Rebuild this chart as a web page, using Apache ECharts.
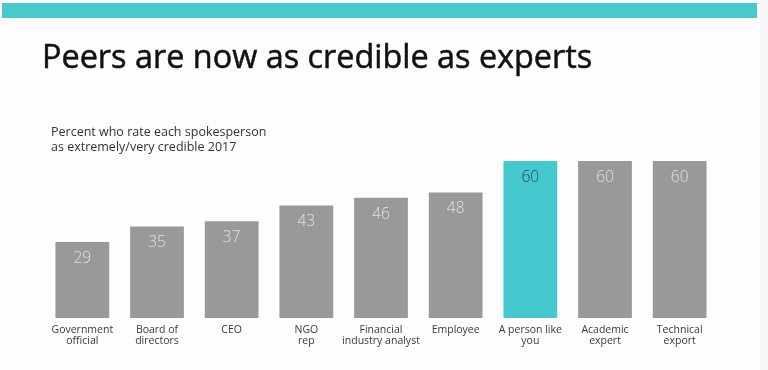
<!DOCTYPE html>
<html>
<head>
<meta charset="utf-8">
<script src="https://cdn.jsdelivr.net/npm/echarts@6/dist/echarts.min.js"></script>
<style>
html,body{margin:0;padding:0;background:#fdfcfe;}
#chart{width:768px;height:370px;}
</style>
</head>
<body>
<div id="chart"></div>
<script>
const categories = ["Government\nofficial", "Board of\ndirectors", "CEO", "NGO\nrep", "Financial\nindustry analyst", "Employee", "A person like\nyou", "Academic\nexpert", "Technical\nexport"];
const values = [29, 35, 37, 43, 46, 48, 60, 60, 60];
const highlightIndex = 6;
const titleText = "Peers are now as credible as experts";
const subtitleText = "Percent who rate each spokesperson\nas extremely/very credible 2017";

const FONT = "'Open Sans', 'Noto Sans', sans-serif";
const chart = echarts.init(document.getElementById('chart'), null, {renderer: 'canvas'});

const data = values.map((v, i) => i === highlightIndex ? {
  value: v,
  itemStyle: {color: '#45C9CE'},
  label: {color: '#1f4a57'}
} : {value: v});

chart.setOption({
  backgroundColor: '#fdfcfe',
  animation: false,
  graphic: [
    {type: 'rect', shape: {x: 2, y: 3, width: 755, height: 15}, style: {fill: '#48C9CE'}},
    {type: 'rect', shape: {x: 760, y: 0, width: 8, height: 370}, style: {fill: '#f6f6f7'}}
  ],
  title: [
    {text: titleText, left: 37, top: 38, textStyle: {fontFamily: FONT, fontSize: 32.4, fontWeight: 'normal', color: '#111', lineHeight: 32, textBorderColor: '#111', textBorderWidth: 0.5}},
    {text: subtitleText, left: 46, top: 120, textStyle: {fontFamily: FONT, fontSize: 12.5, fontWeight: 'normal', color: '#333', lineHeight: 15}}
  ],
  grid: {left: 45, right: 51, top: 161, bottom: 52, containLabel: false},
  xAxis: {
    type: 'category',
    data: categories,
    axisLine: {show: false},
    axisTick: {show: false},
    axisLabel: {color: '#3a3a3a', fontFamily: FONT, fontSize: 10.5, lineHeight: 11, margin: 7, interval: 0}
  },
  yAxis: {
    type: 'value', min: 0, max: 60, show: false, splitLine: {show: false}
  },
  series: [{
    type: 'bar',
    data: data,
    barCategoryGap: '28%',
    itemStyle: {color: '#999999'},
    label: {
      show: true, position: 'insideTop', distance: 9,
      color: '#e2e2e2', fontFamily: FONT, fontSize: 15.5, fontWeight: 300, lineHeight: 15
    }
  }]
});
</script>
</body>
</html>
